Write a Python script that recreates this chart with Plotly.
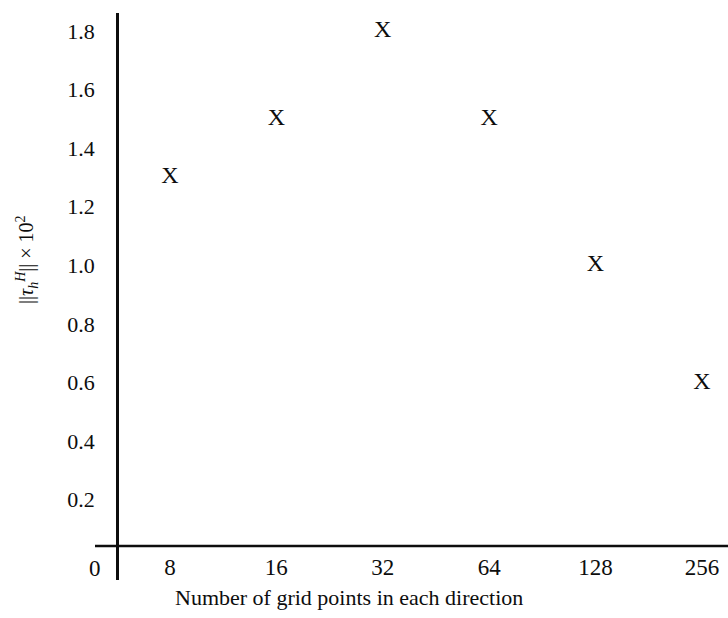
import plotly.graph_objects as go

# Data
grid_points = [8, 16, 32, 64, 128, 256]
grid_pos = [3, 4, 5, 6, 7, 8]          # log2 of grid points (evenly spaced categories)
tau_norm = [1.3, 1.5, 1.8, 1.5, 1.0, 0.6]
y_ticks = [0.2, 0.4, 0.6, 0.8, 1.0, 1.2, 1.4, 1.6, 1.8]
y_tick_text = ["0.2", "0.4", "0.6", "0.8", "1.0", "1.2", "1.4", "1.6", "1.8"]

FONT = "Liberation Serif, Times New Roman, serif"
INK = "#0d0d0d"

W, H = 728, 618
L, T, B = 119, 13, 38
PH = H - T - B   # plot height in px
PW = W - L       # plot width in px

fig = go.Figure()
fig.add_trace(go.Scatter(
    x=grid_pos, y=tau_norm, mode="text", text=["X"] * len(tau_norm),
    textfont=dict(family=FONT, size=24, color=INK),
    textposition="middle center", showlegend=False, hoverinfo="skip",
))

X_AXIS_Y = 0.042
fig.update_layout(
    width=W, height=H,
    margin=dict(l=L, r=0, t=T, b=B),
    paper_bgcolor="white", plot_bgcolor="white",
    xaxis=dict(
        range=[2.521, 8.245], tickvals=grid_pos, ticktext=[str(g) for g in grid_points],
        showgrid=False, zeroline=False, showline=False, ticks="",
        anchor="free", position=0.06, ticklabelstandoff=5,
        tickfont=dict(family=FONT, size=23, color=INK),
    ),
    yaxis=dict(
        range=[-0.074, 1.861], tickvals=y_ticks, ticktext=y_tick_text,
        showgrid=False, zeroline=False, showline=True, linecolor=INK, linewidth=2.5,
        ticks="", ticklabelstandoff=17,
        tickfont=dict(family=FONT, size=22, color=INK),
    ),
    shapes=[dict(type="line", xref="paper", yref="y", x0=-24 / PW, x1=1.0,
                 y0=X_AXIS_Y, y1=X_AXIS_Y, line=dict(color=INK, width=2.5))],
    annotations=[
        dict(text="0", xref="paper", yref="paper", x=(95 - L) / PW, y=(H - B - 568) / PH,
             showarrow=False, font=dict(family=FONT, size=23, color=INK),
             xanchor="center", yanchor="middle"),
        dict(text="Number of grid points in each direction", xref="paper", yref="paper",
             x=(349 - L) / PW, y=(H - B - 598) / PH, showarrow=False,
             font=dict(family=FONT, size=22, color=INK), xanchor="center", yanchor="middle"),
        dict(text="||<i>τ</i><sub><i>h</i></sub><sup><i>H</i></sup>|| × 10<sup>2</sup>",
             xref="paper", yref="paper", x=(27 - L) / PW, y=(H - B - 260) / PH,
             showarrow=False, textangle=-90,
             font=dict(family=FONT, size=20, color=INK), xanchor="center", yanchor="middle"),
    ],
)

fig.write_html(
    "out.html",
    config={"displayModeBar": False},
    post_script="document.body.style.margin='0';document.body.style.overflow='hidden';",
)
